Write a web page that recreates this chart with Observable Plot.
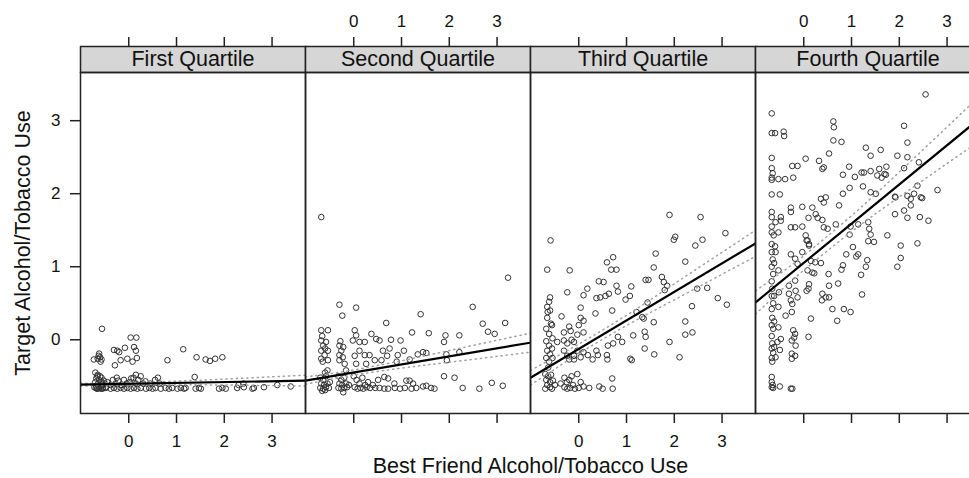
<!DOCTYPE html>
<html><head><meta charset="utf-8">
<script src="https://cdn.jsdelivr.net/npm/d3@7"></script>
<script src="https://cdn.jsdelivr.net/npm/@observablehq/plot@0.6"></script>
<style>html,body{margin:0;padding:0;overflow:hidden;background:#fff} svg{max-width:none !important}</style>
</head><body><div id="chart"></div>
<script>
const quartiles = ["First Quartile","Second Quartile","Third Quartile","Fourth Quartile"];
const xTicks = [0,1,2,3];
const yTicks = [0,1,2,3];
const xTitle = "Best Friend Alcohol/Tobacco Use";
const yTitle = "Target Alcohol/Tobacco Use";

const q1Points = [
[-0.56,0.15],[0.04,0.03],[0.16,0.03],[-0.31,-0.14],[-0.24,-0.15],[-0.2,-0.17],[-0.08,-0.11],[0.11,-0.10],[0.15,-0.15],[-0.73,-0.27],[-0.65,-0.26],[-0.62,-0.19],[-0.59,-0.30],[-0.60,-0.24],[-0.63,-0.22],[-0.57,-0.27],[-0.17,-0.28],[-0.03,-0.26],[0.08,-0.30],[0.17,-0.25],[-0.29,-0.35],[0.81,-0.28],[1.14,-0.13],[1.42,-0.24],[1.61,-0.27],[1.70,-0.29],[1.81,-0.26],[1.96,-0.24],
[-0.70,-0.45],[-0.65,-0.48],[-0.60,-0.50],[-0.68,-0.53],[-0.62,-0.55],[-0.57,-0.52],[-0.70,-0.58],[-0.64,-0.60],[-0.58,-0.58],[-0.52,-0.56],[-0.68,-0.63],[-0.62,-0.65],[-0.55,-0.62],[-0.50,-0.60],[-0.66,-0.67],[-0.58,-0.67],[-0.48,-0.65],[-0.45,-0.58],[-0.72,-0.65],[-0.60,-0.62],[-0.54,-0.66],[-0.66,-0.50],
[-0.38,-0.62],[-0.33,-0.55],[-0.28,-0.60],[-0.22,-0.56],[-0.15,-0.62],[-0.10,-0.55],[-0.05,-0.60],[0.02,-0.58],[0.10,-0.52],[0.15,-0.60],[0.20,-0.55],[0.25,-0.50],[0.30,-0.60],[0.35,-0.57],[0.45,-0.60],[0.55,-0.55],[0.61,-0.52],[0.65,-0.60],[1.38,-0.51],[2.30,-0.62],[2.40,-0.60],[0.15,-0.48],[0.05,-0.53],[-0.25,-0.52],
[-0.69,-0.66],[-0.66,-0.67],[-0.62,-0.66],[-0.59,-0.65],[-0.55,-0.67],[-0.48,-0.66],[-0.38,-0.67],[-0.31,-0.66],[-0.24,-0.67],[-0.17,-0.66],[-0.10,-0.67],[-0.03,-0.66],[0.04,-0.67],[0.11,-0.66],[0.18,-0.67],[0.25,-0.66],[0.36,-0.67],[0.43,-0.66],[0.50,-0.67],[0.56,-0.66],[0.67,-0.67],[0.77,-0.66],[0.84,-0.67],[0.91,-0.66],[1.02,-0.67],[1.09,-0.66],[1.16,-0.67],[1.19,-0.66],[1.40,-0.67],[1.47,-0.66],[1.51,-0.67],[1.89,-0.67],[1.96,-0.66],[2.03,-0.67],[2.27,-0.66],[2.41,-0.65],[2.59,-0.67],[2.62,-0.66],[2.83,-0.65],[3.11,-0.62],[3.39,-0.64]
];
const q2Points = [
[-0.68,1.68],[3.23,0.85],[-0.30,0.48],[0.05,0.44],[-0.24,0.33],[2.49,0.45],[1.40,0.35],[0.68,0.23],[2.70,0.22],[3.17,0.23],[2.81,0.11],[2.95,0.08],
[-0.68,0.13],[-0.54,0.13],[-0.68,-0.01],[-0.58,-0.03],[-0.68,-0.15],[-0.54,-0.15],[-0.68,-0.26],[-0.54,-0.28],[-0.61,-0.21],[-0.64,-0.08],[-0.66,0.05],[-0.60,-0.12],[-0.65,-0.30],[-0.60,-0.45],[-0.55,-0.42],
[-0.70,-0.52],[-0.64,-0.55],[-0.58,-0.50],[-0.68,-0.60],[-0.62,-0.62],[-0.55,-0.60],[-0.70,-0.66],[-0.64,-0.67],[-0.58,-0.65],[-0.52,-0.66],[-0.66,-0.70],[-0.60,-0.69],[-0.50,-0.58],
[-0.30,-0.08],[-0.26,-0.15],[-0.30,-0.21],[-0.30,-0.28],[-0.23,-0.24],[-0.19,-0.33],[-0.16,-0.42],[-0.28,-0.02],[-0.22,-0.10],
[-0.32,-0.50],[-0.26,-0.55],[-0.20,-0.52],[-0.30,-0.60],[-0.24,-0.62],[-0.16,-0.60],[-0.32,-0.66],[-0.26,-0.67],[-0.20,-0.66],[-0.14,-0.65],[-0.22,-0.72],[-0.10,-0.62],
[0.02,0.13],[0.05,0.06],[-0.02,-0.01],[0.12,-0.03],[0.23,-0.03],[0.37,0.08],[0.47,0.01],[0.54,-0.01],[0.12,-0.15],[0.23,-0.21],[0.33,-0.21],[0.44,-0.28],[0.58,-0.28],[0.61,-0.15],[0.75,-0.12],[0.78,0.00],[0.98,-0.01],[0.05,-0.33],[0.26,-0.33],[0.02,-0.22],
[0.00,-0.50],[0.06,-0.55],[0.12,-0.60],[0.18,-0.52],[0.24,-0.62],[0.30,-0.58],[0.02,-0.65],[0.08,-0.67],[0.14,-0.66],[0.20,-0.67],[0.27,-0.65],[0.34,-0.66],[0.40,-0.62],[0.45,-0.66],
[0.92,-0.21],[1.22,0.10],[1.57,0.09],[1.92,0.06],[1.89,-0.03],[2.21,0.06],[1.17,-0.27],[1.34,-0.20],[1.45,-0.17],[1.52,-0.18],[1.94,-0.20],[1.95,-0.28],[2.21,-0.17],[1.89,-0.50],[2.11,-0.52],[2.28,-0.66],[2.63,-0.67],[2.89,-0.59],[3.12,-0.63],[1.10,-0.56],[1.17,-0.56],[1.24,-0.60],[0.51,-0.55],[0.64,-0.51],[0.72,-0.53],[0.85,-0.60],[1.45,-0.64],[1.52,-0.63],[1.62,-0.66],[1.69,-0.67],[1.31,-0.66],[1.21,-0.67],[1.07,-0.66],[0.97,-0.67],[0.86,-0.66],[0.72,-0.67],[0.54,-0.66],[0.64,-0.67],[0.90,-0.30],[0.70,-0.22],[1.05,-0.15]
];
const q3Points = [
[1.90,1.71],[2.55,1.68],[3.07,1.46],[-0.59,1.36],[2.02,1.41],[1.99,1.37],[2.59,1.37],[2.44,1.29],[1.61,1.18],[0.72,1.13],[0.59,1.06],[0.68,0.96],[0.79,0.96],[-0.66,0.96],[-0.19,0.95],[2.23,1.07],[1.57,0.99],[1.40,0.82],[1.46,0.82],[1.74,0.86],[1.78,0.79],[1.85,0.74],[1.80,0.68],[0.42,0.80],[0.52,0.79],[0.79,0.74],[0.82,0.66],[1.10,0.73],[0.18,0.70],[0.10,0.61],[-0.24,0.65],[0.37,0.57],[0.45,0.58],[0.56,0.60],[0.63,0.63],[1.07,0.60],[0.98,0.55],[2.48,0.70],[2.69,0.71],[2.91,0.57],[3.10,0.48],[2.37,0.46],[1.44,0.51],[-0.60,0.58],[-0.62,0.52],[-0.60,0.40],[-0.65,0.38],[0.04,0.44],[0.70,0.40],[-0.36,0.32],[0.35,0.36],[0.04,0.30],[0.10,0.26],[1.21,0.38],[1.33,0.31],[1.36,0.29],[1.57,0.24],[2.23,0.25],[2.23,0.07],[2.38,0.10],[1.38,0.11],[1.40,0.04],[1.14,0.06],[0.91,-0.03],[0.82,0.04],[0.72,-0.05],[0.61,-0.08],[1.90,-0.03],[1.38,-0.12],[1.58,-0.20],[2.11,-0.24],[1.08,-0.26],[1.11,-0.28],[0.59,-0.21],[0.60,-0.27],[0.37,-0.15],[0.40,-0.21],[0.29,-0.27],[0.19,-0.21],
[-0.31,0.10],[-0.17,0.12],[-0.15,0.00],[-0.31,-0.01],[-0.24,-0.05],[-0.10,-0.03],[-0.03,0.07],[0.10,0.10],[-0.03,-0.15],[0.10,-0.17],[0.04,-0.24],[-0.10,-0.22],[-0.24,-0.22],[-0.20,-0.27],[-0.31,-0.15],[-0.45,-0.03],[-0.10,-0.27],[0.00,0.20],[-0.20,0.18],
[-0.66,0.30],[-0.58,0.22],[-0.68,0.15],[-0.62,0.08],[-0.55,0.02],[-0.68,-0.02],[-0.62,-0.08],[-0.56,-0.12],[-0.66,-0.15],[-0.60,-0.20],[-0.68,-0.25],[-0.55,-0.25],[-0.62,-0.30],[-0.66,0.45],[-0.56,0.20],[-0.64,-0.38],
[-0.70,-0.47],[-0.64,-0.50],[-0.58,-0.48],[-0.68,-0.55],[-0.60,-0.58],[-0.54,-0.56],[-0.66,-0.62],[-0.60,-0.65],[-0.70,-0.67],[-0.56,-0.67],[-0.50,-0.62],[-0.38,-0.60],[-0.30,-0.52],[-0.25,-0.58],[-0.20,-0.55],[-0.30,-0.65],[-0.24,-0.67],[-0.18,-0.66],[-0.12,-0.62],[-0.08,-0.67],[-0.03,-0.47],[0.04,-0.58],[0.00,-0.66],[0.10,-0.64],[0.22,-0.66],[0.43,-0.64],[0.50,-0.67],[0.70,-0.53],[0.71,-0.67],[-0.15,-0.50]
];
const q4Points = [
[2.55,3.36],[-0.67,3.10],[-0.67,2.83],[-0.60,2.83],[-0.42,2.85],[-0.41,2.79],[0.62,2.99],[0.63,2.91],[2.10,2.93],[0.62,2.73],[0.79,2.71],[2.17,2.70],[1.30,2.63],[1.61,2.60],[1.40,2.52],[0.53,2.55],[1.96,2.52],[2.17,2.50],[2.41,2.43],[-0.67,2.49],[0.04,2.48],[0.32,2.45],[0.42,2.36],[0.39,2.34],[-0.24,2.38],[-0.13,2.38],[0.95,2.37],[0.82,2.26],[1.07,2.23],[1.21,2.29],[1.26,2.29],[1.40,2.31],[1.58,2.34],[1.73,2.37],[1.54,2.25],[1.63,2.22],[1.72,2.26],[2.10,2.35],[1.69,2.27],[-0.67,2.35],[-0.65,2.28],[-0.67,2.22],[-0.67,2.19],[-0.53,2.20],[-0.39,2.20],[-0.22,2.22],[0.82,2.00],[0.96,2.08],[1.24,2.10],[1.40,2.02],[1.51,2.00],[2.80,2.05],[2.38,2.11],[2.31,2.00],[2.17,1.97],[2.45,1.95],[2.48,1.94],[2.24,1.93],[1.91,1.96],[-0.67,1.99],[-0.50,1.99],[0.36,1.93],[0.46,1.95],[0.42,1.88],[0.74,1.84],[1.92,1.95],[2.24,1.84],[2.10,1.77],[1.91,1.72],[2.17,1.67],[2.43,1.68],[2.61,1.63],[-0.27,1.81],[-0.03,1.82],[0.18,1.81],[-0.27,1.75],[-0.67,1.75],[-0.67,1.68],[-0.48,1.68],[-0.59,1.61],[-0.48,1.63],[0.10,1.67],[0.25,1.72],[0.29,1.67],[0.39,1.64],[0.67,1.58],[1.35,1.61],[1.37,1.52],[1.40,1.44],[1.35,1.35],[1.47,1.34],[0.98,1.55],[1.14,1.58],[0.96,1.44],[1.75,1.43],[2.03,1.29],[2.38,1.32],[-0.27,1.54],[-0.18,1.54],[-0.03,1.55],[0.42,1.54],[0.50,1.52],[-0.67,1.55],[-0.67,1.47],[-0.63,1.43],[-0.53,1.47],[0.04,1.43],[0.06,1.36],[0.11,1.31],[-0.67,1.31],[-0.60,1.28],[1.03,1.27],
[2.03,1.12],[1.96,1.00],[1.10,1.14],[1.14,1.17],[0.89,1.17],[1.33,1.09],[1.30,1.00],[1.20,0.89],[1.22,0.62],[0.82,1.02],[0.79,0.96],[0.72,0.77],[0.53,0.74],[0.52,0.90],[-0.03,1.20],[0.08,1.36],[0.11,1.29],[-0.27,1.17],[-0.18,1.11],[-0.13,1.04],[0.15,1.08],[0.24,1.06],[0.36,1.05],[0.18,0.92],[0.22,0.91],[0.08,0.95],[0.06,0.67],[0.10,0.70],[0.11,0.76],[0.39,0.63],[0.46,0.58],[0.53,0.58],[0.38,0.54],[0.60,0.42],[0.84,0.42],[0.98,0.38],[0.70,0.26],[0.15,0.29],[0.10,0.04],
[-0.31,0.63],[-0.27,0.54],[-0.24,0.49],[-0.31,0.74],[-0.18,0.81],[-0.17,0.67],[-0.13,0.58],[-0.38,0.33],[-0.25,0.38],[-0.22,0.13],[-0.18,0.08],[-0.25,-0.01],[-0.20,0.03],[-0.17,-0.08],[-0.25,-0.19],[-0.18,-0.22],[-0.25,-0.26],[-0.27,-0.67],[-0.24,-0.67],[-0.50,-0.64],
[-0.53,0.17],[-0.48,0.01],[-0.55,-0.03],[-0.50,-0.14],[-0.59,-0.24],[-0.53,0.45],[-0.52,0.65],[-0.53,0.95],[-0.59,1.20],
[-0.67,1.20],[-0.65,1.10],[-0.67,1.00],[-0.64,0.90],[-0.67,0.80],[-0.66,0.70],[-0.67,0.60],[-0.64,0.50],[-0.67,0.42],[-0.66,0.30],[-0.67,0.20],[-0.64,0.15],[-0.67,0.05],[-0.66,-0.05],[-0.67,-0.12],[-0.64,-0.18],[-0.67,-0.25],[-0.66,-0.30],[-0.62,0.60],[-0.62,1.05],[-0.62,0.25],[-0.62,-0.10],
[-0.67,-0.51],[-0.67,-0.58],[-0.65,-0.62],[-0.67,-0.65],[-0.64,-0.66]
];

// fitted lines (value at left and right edge of each panel)
const fitX = [-1.01, 3.70];
const q1Fit = [-0.615, -0.56];
const q2Fit = [-0.56, -0.04];
const q3Fit = [-0.52, 1.32];
const q4Fit = [0.51, 3.04];

// confidence bands
const bandX = [-1.01, -0.5, 0, 1, 2, 3, 3.7];
const q1Upper = [-0.595,-0.594,-0.588,-0.566,-0.540,-0.508,-0.485];
const q1Lower = [-0.635,-0.624,-0.618,-0.616,-0.620,-0.628,-0.635];
const q2Upper = [-0.51,-0.464,-0.414,-0.288,-0.148,-0.007,0.09];
const q2Lower = [-0.61,-0.544,-0.484,-0.388,-0.308,-0.227,-0.17];
const q3Upper = [-0.42,-0.241,-0.06,0.335,0.766,1.197,1.50];
const q3Lower = [-0.62,-0.401,-0.19,0.195,0.546,0.897,1.14];
const q4Upper = [0.67,0.904,1.152,1.699,2.296,2.914,3.35];
const q4Lower = [0.35,0.664,0.952,1.479,1.956,2.414,2.73];

const points = [q1Points,q2Points,q3Points,q4Points].flatMap((arr,i)=>arr.map(([x,y])=>({q:quartiles[i],x,y})));
const fits = [q1Fit,q2Fit,q3Fit,q4Fit].flatMap((ys,i)=>ys.map((y,j)=>({q:quartiles[i],x:fitX[j],y})));
const ups = [q1Upper,q2Upper,q3Upper,q4Upper], lows = [q1Lower,q2Lower,q3Lower,q4Lower];
const bands = quartiles.flatMap((q,i)=>bandX.map((x,j)=>({q,x,upper:ups[i][j],lower:lows[i][j]})));
const topLabels = [quartiles[1],quartiles[3]].flatMap(q=>xTicks.map(v=>({q,v})));
const bottomLabels = [quartiles[0],quartiles[2]].flatMap(q=>xTicks.map(v=>({q,v})));

const W = 980, H = 478, mT = 72, mB = 65, mL = 80, strip = 26;
const panelH = H - mT - mB;

const chart = Plot.plot({
  width: W, height: H,
  marginTop: mT, marginBottom: mB, marginLeft: mL, marginRight: 0,
  style: {fontFamily: "'Liberation Sans', Arial, sans-serif", background: "#fff", color: "#111", maxWidth: "none"},
  fx: {domain: quartiles, padding: 0, axis: null},
  x: {domain: [-1.01, 3.70]},
  y: {domain: [-1.01, 3.66]},
  marks: [
    Plot.frame({fill: "#d6d6d6", stroke: "#222", strokeWidth: 1.5, insetTop: -strip, insetBottom: panelH}),
    Plot.text(quartiles, {fx: d => d, text: d => d, frameAnchor: "top", textAnchor: "middle", lineAnchor: "middle", dy: -strip/2, fontSize: 21.5, fill: "#111"}),
    Plot.axisX({anchor: "top", ticks: xTicks, tickSize: 10, dy: -strip, tickFormat: () => "", label: null, strokeWidth: 1.5, stroke: "#222"}),
    Plot.axisX({anchor: "bottom", ticks: xTicks, tickSize: 10, tickFormat: () => "", label: null, strokeWidth: 1.5, stroke: "#222"}),
    Plot.text(topLabels, {fx: "q", x: "v", text: d => String(d.v), frameAnchor: "top", textAnchor: "middle", lineAnchor: "middle", dy: -51, fontSize: 17, fill: "#111"}),
    Plot.text(bottomLabels, {fx: "q", x: "v", text: d => String(d.v), frameAnchor: "bottom", textAnchor: "middle", lineAnchor: "middle", dy: 28, fontSize: 17, fill: "#111"}),
    Plot.axisY({anchor: "left", ticks: yTicks, tickSize: 10, tickPadding: 10, fontSize: 17, tickFormat: d => String(d), label: null, strokeWidth: 1.5, stroke: "#222"}),
    Plot.text([yTitle], {fx: () => quartiles[0], text: d => d, frameAnchor: "left", textAnchor: "middle", lineAnchor: "middle", dx: -57, rotate: -90, fontSize: 21.5, fill: "#111"}),
    Plot.text([xTitle], {fx: () => quartiles[1], text: d => d, frameAnchor: "bottom-right", textAnchor: "middle", lineAnchor: "middle", dy: 53, fontSize: 21.5, fill: "#111"}),
    Plot.dot(points, {fx: "q", x: "x", y: "y", r: 2.8, stroke: "#333", strokeWidth: 1, fill: "none"}),
    Plot.line(bands, {fx: "q", x: "x", y: "upper", z: "q", stroke: "#a0a0a0", strokeWidth: 1.5, strokeDasharray: "1.2,4", curve: "natural", clip: true}),
    Plot.line(bands, {fx: "q", x: "x", y: "lower", z: "q", stroke: "#a0a0a0", strokeWidth: 1.5, strokeDasharray: "1.2,4", curve: "natural", clip: true}),
    Plot.line(fits, {fx: "q", x: "x", y: "y", z: "q", stroke: "#000", strokeWidth: 2.2, clip: true}),
    Plot.frame({stroke: "#222", strokeWidth: 1.5})
  ]
});
document.getElementById("chart").appendChild(chart);
</script>
</body></html>
